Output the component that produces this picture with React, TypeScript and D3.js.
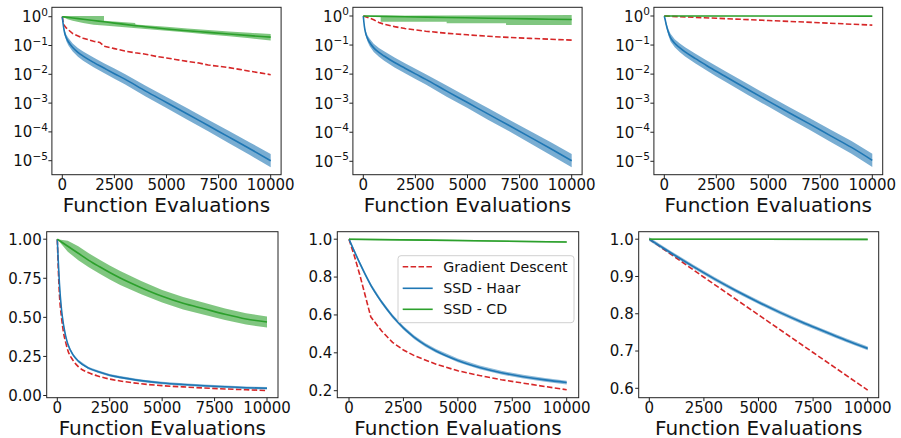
import React from "react";
import * as d3 from "d3";

// ---------------- DATA ----------------
const X_TICKS = [0, 2500, 5000, 7500, 10000];
const X_TICK_LABELS = ["0", "2500", "5000", "7500", "10000"];
const LOG_TICKS = [1, 1e-1, 1e-2, 1e-3, 1e-4, 1e-5];
const LOG_EXP = ["0", "−1", "−2", "−3", "−4", "−5"];
const P4_TICKS = [0, 0.25, 0.5, 0.75, 1.0];
const P4_LABELS = ["0.00", "0.25", "0.50", "0.75", "1.00"];
const P5_TICKS = [0.2, 0.4, 0.6, 0.8, 1.0];
const P5_LABELS = ["0.2", "0.4", "0.6", "0.8", "1.0"];
const P6_TICKS = [0.6, 0.7, 0.8, 0.9, 1.0];
const P6_LABELS = ["0.6", "0.7", "0.8", "0.9", "1.0"];

const LEGEND = ["Gradient Descent", "SSD - Haar", "SSD - CD"];

// top row: SSD - Haar (log panels)
const X_HAAR_TOP = [0, 50, 100, 200, 300, 500, 750, 1000, 1500, 2000, 2500, 3000, 4000, 5000, 6000, 7000, 8000, 9000, 10000];
const P1_HAAR = [1, 0.5, 0.3, 0.178, 0.132, 0.085, 0.058, 0.043, 0.026, 0.0165, 0.0105, 0.0068, 0.0026, 0.00105, 0.00042, 0.000166, 0.000066, 0.000026, 0.00001];
const P2_HAAR = [1, 0.45, 0.28, 0.17, 0.125, 0.08, 0.056, 0.042, 0.025, 0.016, 0.0102, 0.0066, 0.0026, 0.00105, 0.00042, 0.00017, 0.000068, 0.000027, 0.0000105];
const P3_HAAR = [1, 0.7, 0.48, 0.27, 0.18, 0.115, 0.08, 0.058, 0.034, 0.0205, 0.0125, 0.0078, 0.003, 0.00118, 0.00047, 0.00019, 0.000075, 0.00003, 0.0000108];
// band half-width in decades
const HAAR_TOP_SPREAD = [0, 0.05, 0.08, 0.11, 0.13, 0.14, 0.15, 0.16, 0.17, 0.17, 0.18, 0.18, 0.19, 0.19, 0.2, 0.2, 0.21, 0.22, 0.23];

// top row: Gradient Descent
const P1_GD_X = [0, 50, 200, 500, 1000, 1500, 1800, 2000, 2500, 3000, 3500, 4000, 4500, 5000, 5500, 6000, 6500, 7000, 7500, 8000, 8500, 9000, 9500, 10000];
const P1_GD = [1.0, 0.55, 0.4, 0.26, 0.18, 0.14, 0.128, 0.095, 0.078, 0.064, 0.056, 0.05, 0.042, 0.037, 0.032, 0.028, 0.025, 0.021, 0.019, 0.017, 0.0148, 0.0128, 0.0112, 0.0097];
const P2_GD_X = [0, 250, 500, 750, 1000, 1500, 2000, 3000, 4000, 5000, 6000, 7000, 8000, 9000, 10000];
const P2_GD = [1.0, 0.88, 0.74, 0.6, 0.52, 0.43, 0.37, 0.3, 0.255, 0.225, 0.2, 0.183, 0.17, 0.158, 0.148];
const P3_GD_X = [0, 2500, 5000, 7500, 10000];
const P3_GD = [1.0, 0.835, 0.7, 0.585, 0.485];

// top row: SSD - CD
const P1_CD_X = [0, 500, 1000, 1500, 2000, 2500, 3000, 3500, 4000, 5000, 6000, 7000, 8000, 9000, 10000];
const P1_CD = [1, 0.9, 0.82, 0.74, 0.665, 0.6, 0.54, 0.49, 0.445, 0.375, 0.325, 0.285, 0.25, 0.22, 0.195];
const P1_CD_HI_X = [0, 2000, 2000, 3500, 3500, 5000, 6000, 7000, 8000, 9000, 10000];
const P1_CD_HI = [1.05, 1.05, 0.72, 0.6, 0.54, 0.45, 0.39, 0.345, 0.305, 0.275, 0.25];
const P1_CD_LO_X = [0, 250, 500, 1000, 1500, 2000, 3000, 4000, 5000, 6000, 7000, 8000, 9000, 10000];
const P1_CD_LO = [1.0, 0.82, 0.72, 0.6, 0.53, 0.49, 0.43, 0.375, 0.325, 0.28, 0.242, 0.208, 0.178, 0.15];

const P2_CD_X = [0, 2000, 4000, 6000, 8000, 10000];
const P2_CD = [1.0, 0.945, 0.89, 0.84, 0.795, 0.755];
const P2_CD_HI_X = [0, 10000];
const P2_CD_HI = [1.03, 1.08];
const P2_CD_LO_X = [0, 835, 835, 4000, 4000, 6850, 6850, 10000];
const P2_CD_LO = [1.0, 0.93, 0.64, 0.64, 0.56, 0.56, 0.49, 0.49];

const P3_CD_X = [0, 10000];
const P3_CD = [1.0, 0.99];
const P3_CD_HI = [1.01, 1.0];
const P3_CD_LO = [0.99, 0.98];

// bottom-left panel
const P4_X = [0, 50, 100, 200, 300, 400, 500, 750, 1000, 1500, 2000, 2500, 3000, 4000, 5000, 6000, 7000, 8000, 9000, 10000];
const P4_HAAR = [1, 0.85, 0.72, 0.55, 0.45, 0.38, 0.33, 0.26, 0.22, 0.175, 0.15, 0.13, 0.116, 0.095, 0.08, 0.07, 0.062, 0.056, 0.05, 0.046];
const P4_GD = [1, 0.8, 0.65, 0.5, 0.4, 0.34, 0.29, 0.225, 0.185, 0.145, 0.122, 0.105, 0.093, 0.075, 0.063, 0.055, 0.048, 0.042, 0.037, 0.032];
const P4_CD_X = [0, 500, 1000, 1500, 2000, 2500, 3000, 4000, 5000, 6000, 7000, 8000, 9000, 10000];
const P4_CD = [1, 0.955, 0.91, 0.865, 0.825, 0.787, 0.752, 0.69, 0.635, 0.59, 0.555, 0.52, 0.49, 0.47];
const P4_CD_SPREAD = [0, 0.035, 0.045, 0.045, 0.045, 0.045, 0.045, 0.042, 0.04, 0.04, 0.038, 0.037, 0.036, 0.035];

// bottom-middle panel
const P5_HAAR_X = [0, 250, 500, 750, 1000, 1500, 2000, 2500, 3000, 3500, 4000, 5000, 6000, 7000, 8000, 9000, 10000];
const P5_HAAR = [1, 0.935, 0.872, 0.813, 0.758, 0.668, 0.593, 0.532, 0.482, 0.442, 0.41, 0.36, 0.323, 0.295, 0.274, 0.257, 0.243];
const P5_GD_X = [0, 250, 500, 750, 1000, 1500, 2000, 2500, 3000, 4000, 5000, 6000, 7000, 8000, 9000, 10000];
const P5_GD = [1.0, 0.91, 0.81, 0.7, 0.59, 0.515, 0.455, 0.415, 0.385, 0.34, 0.305, 0.28, 0.258, 0.24, 0.222, 0.205];
const P5_CD_X = [0, 5000, 10000];
const P5_CD = [1.0, 0.993, 0.985];

// bottom-right panel
const P6_HAAR_X = [0, 1000, 2000, 3000, 4000, 5000, 6000, 7000, 8000, 9000, 10000];
const P6_HAAR = [1, 0.963, 0.927, 0.893, 0.861, 0.831, 0.803, 0.777, 0.753, 0.729, 0.707];
const P6_GD_X = [0, 2500, 5000, 7500, 10000];
const P6_GD = [1.0, 0.898, 0.797, 0.696, 0.595];
const P6_CD_X = [0, 10000];
const P6_CD = [1.0, 0.9995];

// ---------------- STYLE ----------------
const RED = "#d62728";
const BLUE = "#1f77b4";
const GREEN = "#2ca02c";
const FONT = "DejaVu Sans, sans-serif";

type Pt = [number, number];
const zip = (xs: number[], ys: number[]): Pt[] => xs.map((x, i) => [x, ys[i]]);

interface Layer {
  kind: "band" | "line";
  hi?: Pt[];
  lo?: Pt[];
  pts?: Pt[];
  color: string;
  dashed?: boolean;
  opacity?: number;
  smooth?: boolean;
}

interface PanelProps {
  id: string;
  left: number; right: number; top: number; bottom: number;
  x0: number; x1: number;
  log: boolean;
  yDomain: [number, number];
  yRange: [number, number];
  yTicks: number[];
  yLabels: string[];
  layers: Layer[];
}

function Panel(p: PanelProps) {
  const x = d3.scaleLinear().domain([0, 10000]).range([p.x0, p.x1]);
  const y = p.log
    ? d3.scaleLog().domain(p.yDomain).range(p.yRange)
    : d3.scaleLinear().domain(p.yDomain).range(p.yRange);
  const lineLin = d3.line<Pt>().x((d) => x(d[0])).y((d) => y(d[1]));
  const lineSmooth = d3.line<Pt>().x((d) => x(d[0])).y((d) => y(d[1])).curve(d3.curveMonotoneX);
  const clipId = `clip-${p.id}`;
  return (
    <g>
      <defs>
        <clipPath id={clipId}>
          <rect x={p.left} y={p.top} width={p.right - p.left} height={p.bottom - p.top} />
        </clipPath>
      </defs>
      <g clipPath={`url(#${clipId})`}>
        {p.layers.map((l, i) => {
          if (l.kind === "band") {
            const poly = [...(l.hi as Pt[]), ...(l.lo as Pt[]).slice().reverse()];
            return (
              <path key={i} d={(lineLin(poly) || "") + "Z"} fill={l.color} fillOpacity={l.opacity ?? 0.6} stroke="none" />
            );
          }
          const gen = l.smooth ? lineSmooth : lineLin;
          return (
            <path key={i} d={gen(l.pts as Pt[]) || ""} fill="none" stroke={l.color} strokeWidth={1.6}
              strokeDasharray={l.dashed ? "5.5,2.4" : undefined} />
          );
        })}
      </g>
      <rect x={p.left} y={p.top} width={p.right - p.left} height={p.bottom - p.top} fill="none" stroke="#222" strokeWidth={1} />
      {X_TICKS.map((t, i) => (
        <g key={"xt" + i}>
          <line x1={x(t)} x2={x(t)} y1={p.bottom} y2={p.bottom + 3.5} stroke="#222" strokeWidth={1} />
          <text x={x(t)} y={p.bottom + 15} textAnchor="middle" fontSize={15} fontFamily={FONT} fill="#111">
            {X_TICK_LABELS[i]}
          </text>
        </g>
      ))}
      {p.yTicks.map((t, i) => (
        <g key={"yt" + i}>
          <line x1={p.left - 3.5} x2={p.left} y1={y(t)} y2={y(t)} stroke="#222" strokeWidth={1} />
          {p.log ? (
            <text x={p.left - 4} y={y(t) + 5.5} textAnchor="end" fontSize={15} fontFamily={FONT} fill="#111">
              10<tspan dy={-6.5} fontSize={10.5}>{p.yLabels[i]}</tspan>
            </text>
          ) : (
            <text x={p.left - 5} y={y(t) + 5.4} textAnchor="end" fontSize={15} fontFamily={FONT} fill="#111">
              {p.yLabels[i]}
            </text>
          )}
        </g>
      ))}
      <text x={(p.left + p.right) / 2} y={p.bottom + 37} textAnchor="middle" fontSize={20} fontFamily={FONT} fill="#111">
        Function Evaluations
      </text>
    </g>
  );
}

const logBand = (xs: number[], ys: number[], spread: number[]) => ({
  hi: xs.map((xv, i): Pt => [xv, ys[i] * Math.pow(10, spread[i])]),
  lo: xs.map((xv, i): Pt => [xv, ys[i] / Math.pow(10, spread[i])]),
});
const linBand = (xs: number[], ys: number[], s: number[] | number) => ({
  hi: xs.map((xv, i): Pt => [xv, ys[i] + (Array.isArray(s) ? s[i] : s)]),
  lo: xs.map((xv, i): Pt => [xv, ys[i] - (Array.isArray(s) ? s[i] : s)]),
});

export default function App() {
  const topCommon = { top: 7.3, bottom: 174.7, log: true, yDomain: [1, 1e-5] as [number, number], yTicks: LOG_TICKS, yLabels: LOG_EXP };
  const botCommon = { top: 231.7, bottom: 397.7, log: false };

  const topLayers = (haar: number[], gdX: number[], gd: number[], cdX: number[], cd: number[], cdHi: Pt[], cdLo: Pt[]): Layer[] => {
    const hb = logBand(X_HAAR_TOP, haar, HAAR_TOP_SPREAD);
    return [
      { kind: "line", pts: zip(gdX, gd), color: RED, dashed: true },
      { kind: "band", hi: hb.hi, lo: hb.lo, color: BLUE, opacity: 0.6 },
      { kind: "line", pts: zip(X_HAAR_TOP, haar), color: BLUE, smooth: true },
      { kind: "band", hi: cdHi, lo: cdLo, color: GREEN, opacity: 0.6 },
      { kind: "line", pts: zip(cdX, cd), color: GREEN, smooth: true },
    ];
  };

  const p4Haar = linBand(P4_X, P4_HAAR, 0.008);
  const p4Cd = linBand(P4_CD_X, P4_CD, P4_CD_SPREAD);
  const p5Haar = linBand(P5_HAAR_X, P5_HAAR, 0.01);
  const p5Cd = linBand(P5_CD_X, P5_CD, 0.004);
  const p6Haar = linBand(P6_HAAR_X, P6_HAAR, 0.005);
  const p6Cd = linBand(P6_CD_X, P6_CD, 0.002);

  const legendY = [266.7, 288.3, 309.3];
  const legendColors = [RED, BLUE, GREEN];

  return (
    <svg width={901} height={438} style={{ position: "absolute", left: 0, top: 0, background: "#fff" }}>
      <rect x={0} y={0} width={901} height={438} fill="#fff" />
      <Panel id="p1" {...topCommon} left={51.9} right={281.1} x0={62.3} x1={270.7} yRange={[16.7, 160.7]}
        layers={topLayers(P1_HAAR, P1_GD_X, P1_GD, P1_CD_X, P1_CD, zip(P1_CD_HI_X, P1_CD_HI), zip(P1_CD_LO_X, P1_CD_LO))} />
      <Panel id="p2" {...topCommon} left={352.9} right={582.1} x0={363.3} x1={571.7} yRange={[16, 161.3]}
        layers={topLayers(P2_HAAR, P2_GD_X, P2_GD, P2_CD_X, P2_CD, zip(P2_CD_HI_X, P2_CD_HI), zip(P2_CD_LO_X, P2_CD_LO))} />
      <Panel id="p3" {...topCommon} left={653.9} right={882.7} x0={664.3} x1={872.3} yRange={[16, 161.3]}
        layers={topLayers(P3_HAAR, P3_GD_X, P3_GD, P3_CD_X, P3_CD, zip(P3_CD_X, P3_CD_HI), zip(P3_CD_X, P3_CD_LO))} />

      <Panel id="p4" {...botCommon} left={46.7} right={278} x0={57.3} x1={267} yDomain={[0, 1]} yRange={[395.5, 239.2]}
        yTicks={P4_TICKS} yLabels={P4_LABELS}
        layers={[
          { kind: "line", pts: zip(P4_X, P4_GD), color: RED, dashed: true, smooth: true },
          { kind: "band", hi: p4Haar.hi, lo: p4Haar.lo, color: BLUE, opacity: 0.5 },
          { kind: "line", pts: zip(P4_X, P4_HAAR), color: BLUE, smooth: true },
          { kind: "band", hi: p4Cd.hi, lo: p4Cd.lo, color: GREEN, opacity: 0.6 },
          { kind: "line", pts: zip(P4_CD_X, P4_CD), color: GREEN, smooth: true },
        ]} />
      <Panel id="p5" {...botCommon} left={337.3} right={578.7} x0={349} x1={566.7} yDomain={[0.2, 1]} yRange={[390.7, 239.2]}
        yTicks={P5_TICKS} yLabels={P5_LABELS}
        layers={[
          { kind: "line", pts: zip(P5_GD_X, P5_GD), color: RED, dashed: true },
          { kind: "band", hi: p5Haar.hi, lo: p5Haar.lo, color: BLUE, opacity: 0.5 },
          { kind: "line", pts: zip(P5_HAAR_X, P5_HAAR), color: BLUE, smooth: true },
          { kind: "band", hi: p5Cd.hi, lo: p5Cd.lo, color: GREEN, opacity: 0.6 },
          { kind: "line", pts: zip(P5_CD_X, P5_CD), color: GREEN, smooth: true },
        ]} />
      <Panel id="p6" {...botCommon} left={638.7} right={878.7} x0={649.3} x1={867.7} yDomain={[0.6, 1]} yRange={[388.3, 239.2]}
        yTicks={P6_TICKS} yLabels={P6_LABELS}
        layers={[
          { kind: "line", pts: zip(P6_GD_X, P6_GD), color: RED, dashed: true },
          { kind: "band", hi: p6Haar.hi, lo: p6Haar.lo, color: BLUE, opacity: 0.5 },
          { kind: "line", pts: zip(P6_HAAR_X, P6_HAAR), color: BLUE, smooth: true },
          { kind: "band", hi: p6Cd.hi, lo: p6Cd.lo, color: GREEN, opacity: 0.6 },
          { kind: "line", pts: zip(P6_CD_X, P6_CD), color: GREEN, smooth: true },
        ]} />

      <g>
        <rect x={398} y={255.7} width={176} height={67} rx={3} fill="#fff" fillOpacity={0.8} stroke="#d0d0d0" strokeWidth={1} />
        {LEGEND.map((name, i) => (
          <g key={name}>
            <line x1={402.7} x2={432.7} y1={legendY[i]} y2={legendY[i]} stroke={legendColors[i]} strokeWidth={1.6}
              strokeDasharray={i === 0 ? "5.5,2.4" : undefined} />
            <text x={443.3} y={legendY[i] + 5.1} fontSize={14.2} fontFamily={FONT} fill="#111">{name}</text>
          </g>
        ))}
      </g>
    </svg>
  );
}
